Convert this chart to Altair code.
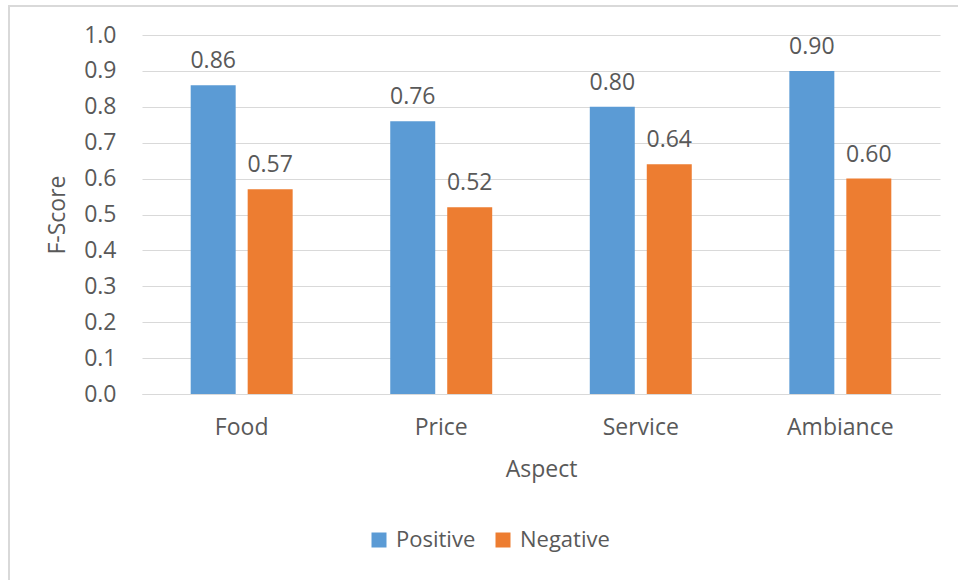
import altair as alt
import pandas as pd

# F-scores per restaurant aspect, split by sentiment polarity
aspects = ["Food", "Price", "Service", "Ambiance"]
positive = [0.86, 0.76, 0.80, 0.90]
negative = [0.57, 0.52, 0.64, 0.60]
series = ["Positive", "Negative"]
colors = ["#5B9BD5", "#ED7D31"]
y_ticks = [0.0, 0.1, 0.2, 0.3, 0.4, 0.5, 0.6, 0.7, 0.8, 0.9, 1.0]

rows = []
for a, p, n in zip(aspects, positive, negative):
    rows.append({"Aspect": a, "Sentiment": "Positive", "F-Score": p})
    rows.append({"Aspect": a, "Sentiment": "Negative", "F-Score": n})
df = pd.DataFrame(rows)

FONT = "Open Sans"
FS = 23
TXT = "#595959"
GRID = "#D9D9D9"

x_enc = alt.X(
    "Aspect:N",
    sort=aspects,
    title="Aspect",
    scale=alt.Scale(paddingInner=0.489, paddingOuter=0.244),
    axis=alt.Axis(
        labelAngle=0, ticks=False, domainColor=GRID, domainWidth=1,
        labelPadding=22, titlePadding=19,
    ),
)
xoff_enc = alt.XOffset(
    "Sentiment:N", sort=series,
    scale=alt.Scale(paddingInner=0.2105, paddingOuter=0),
)
y_enc = alt.Y(
    "F-Score:Q",
    title="F-Score",
    scale=alt.Scale(domain=[0, 1.0], nice=False),
    axis=alt.Axis(
        values=y_ticks, format=".1f", ticks=False, domain=False,
        gridColor=GRID, gridWidth=1, labelPadding=26, titlePadding=14,
    ),
)

base = alt.Chart(df).encode(x=x_enc, xOffset=xoff_enc, y=y_enc)

bars = base.mark_bar().encode(
    color=alt.Color(
        "Sentiment:N",
        sort=series,
        scale=alt.Scale(domain=series, range=colors),
        legend=alt.Legend(
            title=None, orient="none", direction="horizontal",
            legendX=226, legendY=494, symbolType="square", symbolSize=225,
            symbolStrokeWidth=0, labelFontSize=22, labelColor=TXT, labelFont=FONT,
            columnPadding=16, labelOffset=6, padding=0,
        ),
    ),
)

labels = base.mark_text(
    baseline="bottom", dy=-12, fontSize=FS, font=FONT, color=TXT
).encode(
    text=alt.Text("F-Score:Q", format=".2f"),
)

# light frame around the whole figure
frame = alt.Chart(pd.DataFrame({"k": [0]})).mark_rect(
    fill=None, stroke=GRID, strokeWidth=2
).encode(
    x=alt.value(-133), x2=alt.value(830),
    y=alt.value(-29), y2=alt.value(560),
)

chart = alt.layer(frame, bars, labels).properties(
    width=798,
    height=359,
    autosize=alt.AutoSizeParams(type="none"),
    padding={"left": 142, "top": 35, "right": 18, "bottom": 186},
).configure(
    background="white",
).configure_view(
    stroke=None
).configure_axis(
    labelFont=FONT, titleFont=FONT, labelFontSize=FS, titleFontSize=FS,
    labelColor=TXT, titleColor=TXT, titleFontWeight="normal",
)

chart.save("out.html", embed_options={"renderer": "svg", "actions": False})
